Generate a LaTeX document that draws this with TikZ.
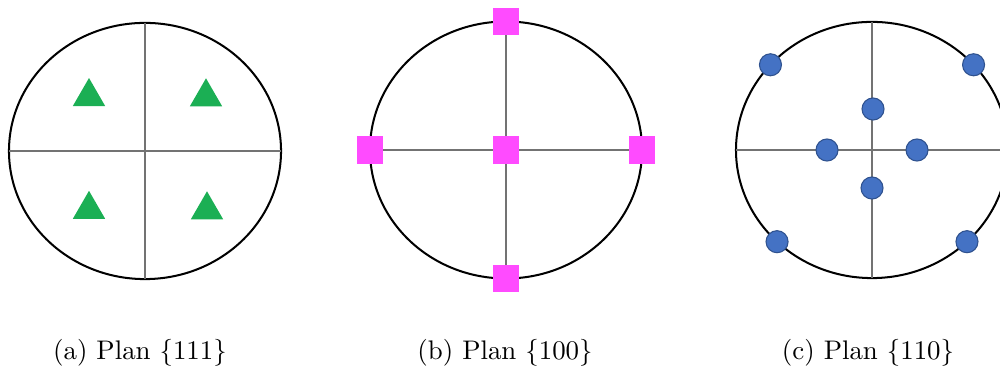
\documentclass[tikz,border=0pt]{standalone}
\usetikzlibrary{shapes.geometric, positioning}
\definecolor{triGreen}{HTML}{1BAF54}
\definecolor{sqMagenta}{HTML}{FF4BFF}
\definecolor{dotBlue}{HTML}{4472C4}
\definecolor{dotEdge}{HTML}{2F528F}
\begin{document}
\begin{tikzpicture}[x=0.372pt, y=-0.372pt,
    rim/.style={ellipse, draw=black, line width=0.75pt, inner sep=0pt, outer sep=0pt, minimum width=101.2pt, minimum height=95.3pt},
    axis/.style={draw=black!55, line width=0.5pt},
    tri/.style={regular polygon, regular polygon sides=3, fill=triGreen, inner sep=0pt, minimum size=13.9pt},
    sq/.style={rectangle, fill=sqMagenta, inner sep=0pt, minimum width=9.7pt, minimum height=10.4pt},
    dot/.style={circle, fill=dotBlue, draw=dotEdge, line width=0.4pt, inner sep=0pt, minimum size=8.2pt},
    caption/.style={anchor=base}]
    \useasboundingbox (0,0) rectangle (1000,372);

    \node[rim] (rimA) at (145,151) {};
    \draw[axis] (rimA.west) -- (rimA.east);
    \draw[axis] (rimA.north) -- (rimA.south);
    \node[tri] (triNW) at (89,96.7) {};
    \node[tri] (triNE) at (206,97) {};
    \node[tri] (triSW) at (89,209.5) {};
    \node[tri] (triSE) at (207,210) {};
    \node[caption] (capA) at (140,360) {(a) Plan $\{111\}$};

    \node[rim, minimum height=95.6pt] (rimB) at (506,150) {};
    \draw[axis] (rimB.west) -- (rimB.east);
    \draw[axis] (rimB.north) -- (rimB.south);
    \node[sq] (sqN) at (rimB.north) {};
    \node[sq] (sqS) at (rimB.south) {};
    \node[sq] (sqW) at (rimB.west) {};
    \node[sq] (sqE) at (rimB.east) {};
    \node[sq] (sqC) at (rimB.center) {};
    \node[caption] (capB) at (505,360) {(b) Plan $\{100\}$};

    \node[rim] (rimC) at (872,150) {};
    \draw[axis] (rimC.west) -- (rimC.east);
    \draw[axis] (rimC.north) -- (rimC.south);
    \node[dot] (dotNW) at (rimC.140) {};
    \node[dot] (dotNE) at (rimC.40) {};
    \node[dot] (dotSW) at (rimC.224) {};
    \node[dot] (dotSE) at (rimC.316) {};
    \node[dot] (dotN) at (873,109) {};
    \node[dot] (dotW) at (827,150) {};
    \node[dot] (dotE) at (917,150) {};
    \node[dot] (dotS) at (872,188) {};
    \node[caption] (capC) at (868,360) {(c) Plan $\{110\}$};
\end{tikzpicture}
\end{document}
